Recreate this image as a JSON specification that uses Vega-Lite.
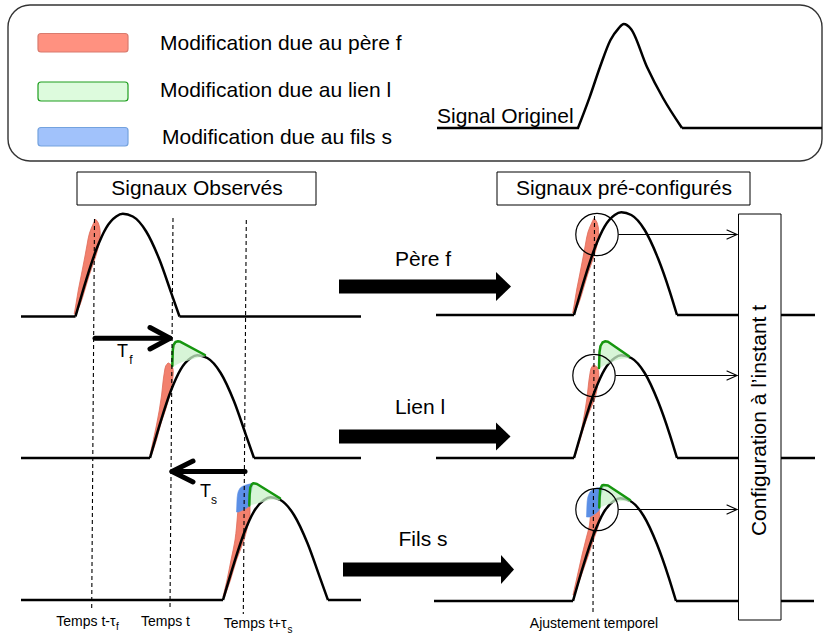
{
  "$schema": "https://vega.github.io/schema/vega-lite/v6.json",
  "width": 825,
  "height": 636,
  "padding": 0,
  "autosize": {"type": "none"},
  "background": "white",
  "config": {"view": {"stroke": null}, "font": "Liberation Sans"},
  "datasets": {
    "frame": [{"x": 8, "x2": 822, "y": 5, "y2": 161}],
    "swRed": [{"x": 38, "x2": 128, "y": 33.5, "y2": 52}],
    "swGreen": [{"x": 38, "x2": 128, "y": 82, "y2": 101}],
    "swBlue": [{"x": 38, "x2": 128, "y": 127.5, "y2": 146}],
    "boxes": [
      {"x": 77, "x2": 316, "y": 172, "y2": 205},
      {"x": 497, "x2": 750, "y": 172, "y2": 205}
    ],
    "configBox": [{"x": 738.5, "x2": 781, "y": 214, "y2": 620}],
    "flats": [
      {"x": 437, "x2": 579, "y": 128, "y2": 128},
      {"x": 682, "x2": 822, "y": 128, "y2": 128},
      {"x": 21, "x2": 75.5, "y": 316.5, "y2": 316.5},
      {"x": 179.5, "x2": 361, "y": 316.5, "y2": 316.5},
      {"x": 436, "x2": 574, "y": 315, "y2": 315},
      {"x": 677, "x2": 815, "y": 315, "y2": 315},
      {"x": 21, "x2": 150, "y": 458, "y2": 458},
      {"x": 254, "x2": 361, "y": 458, "y2": 458},
      {"x": 436, "x2": 574, "y": 458, "y2": 458},
      {"x": 677, "x2": 815, "y": 458, "y2": 458},
      {"x": 21, "x2": 223, "y": 600, "y2": 600},
      {"x": 328, "x2": 361, "y": 600, "y2": 600},
      {"x": 434, "x2": 573, "y": 601, "y2": 601},
      {"x": 676, "x2": 814, "y": 601, "y2": 601}
    ],
    "humps": [
      {"g": "L", "x": 578, "y": 128}, {"g": "L", "x": 589.5, "y": 97.6}, {"g": "L", "x": 600, "y": 67}, {"g": "L", "x": 610.5, "y": 40}, {"g": "L", "x": 618.4, "y": 28.6}, {"g": "L", "x": 623.7, "y": 24}, {"g": "L", "x": 631, "y": 29}, {"g": "L", "x": 647, "y": 67}, {"g": "L", "x": 663, "y": 98}, {"g": "L", "x": 682, "y": 128},
      {"g": "1a", "x": 75.5, "y": 316.5}, {"g": "1a", "x": 86.2, "y": 279.8}, {"g": "1a", "x": 96.2, "y": 249.8}, {"g": "1a", "x": 106.2, "y": 227.8}, {"g": "1a", "x": 116.2, "y": 216.5}, {"g": "1a", "x": 122.8, "y": 213.8}, {"g": "1a", "x": 132.8, "y": 216.5}, {"g": "1a", "x": 146.2, "y": 231.5}, {"g": "1a", "x": 159.5, "y": 259.8}, {"g": "1a", "x": 171.2, "y": 292.8}, {"g": "1a", "x": 179.5, "y": 316.5},
      {"g": "1b", "x": 574, "y": 315}, {"g": "1b", "x": 584.7, "y": 278.3}, {"g": "1b", "x": 594.7, "y": 248.3}, {"g": "1b", "x": 604.7, "y": 226.3}, {"g": "1b", "x": 614.7, "y": 215}, {"g": "1b", "x": 621.3, "y": 212.3}, {"g": "1b", "x": 631.3, "y": 215}, {"g": "1b", "x": 644.7, "y": 230}, {"g": "1b", "x": 658, "y": 258.3}, {"g": "1b", "x": 669.7, "y": 291.3}, {"g": "1b", "x": 677, "y": 315},
      {"g": "2a", "x": 150, "y": 458}, {"g": "2a", "x": 160.7, "y": 421.3}, {"g": "2a", "x": 170.7, "y": 391.3}, {"g": "2a", "x": 180.7, "y": 369.3}, {"g": "2a", "x": 190.7, "y": 358}, {"g": "2a", "x": 197.3, "y": 355.3}, {"g": "2a", "x": 207.3, "y": 358}, {"g": "2a", "x": 220.7, "y": 373}, {"g": "2a", "x": 234, "y": 401.3}, {"g": "2a", "x": 245.7, "y": 434.3}, {"g": "2a", "x": 254, "y": 458},
      {"g": "2b", "x": 574, "y": 458}, {"g": "2b", "x": 584.7, "y": 421.3}, {"g": "2b", "x": 594.7, "y": 391.3}, {"g": "2b", "x": 604.7, "y": 369.3}, {"g": "2b", "x": 614.7, "y": 358}, {"g": "2b", "x": 621.3, "y": 355.3}, {"g": "2b", "x": 631.3, "y": 358}, {"g": "2b", "x": 644.7, "y": 373}, {"g": "2b", "x": 658, "y": 401.3}, {"g": "2b", "x": 669.7, "y": 434.3}, {"g": "2b", "x": 677, "y": 458},
      {"g": "3a", "x": 223, "y": 600}, {"g": "3a", "x": 234, "y": 563.3}, {"g": "3a", "x": 244, "y": 533.3}, {"g": "3a", "x": 254, "y": 511.3}, {"g": "3a", "x": 264, "y": 500}, {"g": "3a", "x": 270.5, "y": 497.3}, {"g": "3a", "x": 280.5, "y": 500}, {"g": "3a", "x": 294, "y": 515}, {"g": "3a", "x": 307.5, "y": 543.3}, {"g": "3a", "x": 319.5, "y": 576.3}, {"g": "3a", "x": 328, "y": 600},
      {"g": "3b", "x": 573, "y": 601}, {"g": "3b", "x": 583.7, "y": 564.3}, {"g": "3b", "x": 593.7, "y": 534.3}, {"g": "3b", "x": 603.7, "y": 512.3}, {"g": "3b", "x": 613.7, "y": 501}, {"g": "3b", "x": 620.3, "y": 498.3}, {"g": "3b", "x": 630.3, "y": 501}, {"g": "3b", "x": 643.7, "y": 516}, {"g": "3b", "x": 657, "y": 544.3}, {"g": "3b", "x": 668.7, "y": 577.3}, {"g": "3b", "x": 676, "y": 601}
    ],
    "reds": [
      {"g": "1a", "y": 219.5, "x": 95.3, "x2": 95.9}, {"g": "1a", "y": 223, "x": 93.6, "x2": 98.3}, {"g": "1a", "y": 233, "x": 89.5, "x2": 100.2}, {"g": "1a", "y": 245, "x": 87, "x2": 98.8}, {"g": "1a", "y": 257, "x": 84.8, "x2": 95.5}, {"g": "1a", "y": 275, "x": 81.3, "x2": 89.3}, {"g": "1a", "y": 290, "x": 78.3, "x2": 84.8}, {"g": "1a", "y": 305, "x": 75.8, "x2": 80}, {"g": "1a", "y": 314, "x": 74.2, "x2": 75.8},
      {"g": "1b", "y": 218.5, "x": 593.8, "x2": 594.4}, {"g": "1b", "y": 222, "x": 592.1, "x2": 596.8}, {"g": "1b", "y": 232, "x": 588, "x2": 598.7}, {"g": "1b", "y": 244, "x": 585.5, "x2": 597.3}, {"g": "1b", "y": 256, "x": 583.3, "x2": 594}, {"g": "1b", "y": 274, "x": 579.8, "x2": 587.8}, {"g": "1b", "y": 289, "x": 576.8, "x2": 583.3}, {"g": "1b", "y": 304, "x": 574.3, "x2": 578.5}, {"g": "1b", "y": 313, "x": 572.7, "x2": 574.3},
      {"g": "2a", "y": 363, "x": 168, "x2": 168.6}, {"g": "2a", "y": 366, "x": 165.7, "x2": 172.2}, {"g": "2a", "y": 372, "x": 164.4, "x2": 173.3}, {"g": "2a", "y": 382, "x": 163, "x2": 172.3}, {"g": "2a", "y": 395, "x": 161.6, "x2": 169.8}, {"g": "2a", "y": 410, "x": 159.3, "x2": 165.5}, {"g": "2a", "y": 425, "x": 156.5, "x2": 160.5}, {"g": "2a", "y": 440, "x": 153.3, "x2": 156.5}, {"g": "2a", "y": 455, "x": 150, "x2": 151.5},
      {"g": "2b", "y": 365, "x": 593.5, "x2": 594.1}, {"g": "2b", "y": 368, "x": 591.2, "x2": 597.7}, {"g": "2b", "y": 374, "x": 589.9, "x2": 598.8}, {"g": "2b", "y": 384, "x": 588.5, "x2": 597.8}, {"g": "2b", "y": 397, "x": 587.1, "x2": 595.3}, {"g": "2b", "y": 412, "x": 584.8, "x2": 589.3}, {"g": "2b", "y": 427, "x": 582, "x2": 584}, {"g": "2b", "y": 442, "x": 578.8, "x2": 579.5}, {"g": "2b", "y": 456, "x": 574.5, "x2": 575},
      {"g": "3a", "y": 503, "x": 244, "x2": 246}, {"g": "3a", "y": 507, "x": 238.5, "x2": 250}, {"g": "3a", "y": 515, "x": 237.5, "x2": 250}, {"g": "3a", "y": 527, "x": 236.5, "x2": 247.5}, {"g": "3a", "y": 540, "x": 235, "x2": 244}, {"g": "3a", "y": 560, "x": 231, "x2": 236.5}, {"g": "3a", "y": 580, "x": 227, "x2": 230.5}, {"g": "3a", "y": 597, "x": 223, "x2": 224.5},
      {"g": "3b", "y": 503, "x": 594, "x2": 596}, {"g": "3b", "y": 508, "x": 591.5, "x2": 599}, {"g": "3b", "y": 515, "x": 590.5, "x2": 599.5}, {"g": "3b", "y": 525, "x": 589.5, "x2": 598.5}, {"g": "3b", "y": 537, "x": 586.5, "x2": 594.5}, {"g": "3b", "y": 555, "x": 582, "x2": 588.5}, {"g": "3b", "y": 575, "x": 577.5, "x2": 581.5}, {"g": "3b", "y": 595, "x": 573, "x2": 574.5}
    ],
    "blues": [
      {"g": "3a", "y": 483.3, "x": 252.8, "x2": 253.4}, {"g": "3a", "y": 485, "x": 246, "x2": 253.1}, {"g": "3a", "y": 487, "x": 241.5, "x2": 252.6}, {"g": "3a", "y": 490, "x": 239, "x2": 251.8}, {"g": "3a", "y": 495, "x": 237.5, "x2": 250.6}, {"g": "3a", "y": 500, "x": 237, "x2": 249.8}, {"g": "3a", "y": 505, "x": 236.8, "x2": 249.4}, {"g": "3a", "y": 512, "x": 236.5, "x2": 238.5},
      {"g": "3b", "y": 486.7, "x": 602.8, "x2": 603.4}, {"g": "3b", "y": 488.5, "x": 596, "x2": 603}, {"g": "3b", "y": 490.5, "x": 591.5, "x2": 602.5}, {"g": "3b", "y": 494, "x": 589, "x2": 601.5}, {"g": "3b", "y": 499, "x": 587.5, "x2": 600.3}, {"g": "3b", "y": 504, "x": 587, "x2": 599.6}, {"g": "3b", "y": 509, "x": 586.8, "x2": 599.3}, {"g": "3b", "y": 517, "x": 586.5, "x2": 590}
    ],
    "greens": [
      {"g": "2a", "x": 172.5, "y": 345, "y2": 367}, {"g": "2a", "x": 174.5, "y": 342.5, "y2": 366}, {"g": "2a", "x": 177, "y": 341.5, "y2": 364.5}, {"g": "2a", "x": 180, "y": 341.7, "y2": 363}, {"g": "2a", "x": 190, "y": 346.7, "y2": 360}, {"g": "2a", "x": 198, "y": 350.8, "y2": 357.5}, {"g": "2a", "x": 205, "y": 355, "y2": 356.5},
      {"g": "2b", "x": 599.2, "y": 346, "y2": 368}, {"g": "2b", "x": 601.3, "y": 343.5, "y2": 367}, {"g": "2b", "x": 604, "y": 341.5, "y2": 365.5}, {"g": "2b", "x": 609, "y": 342.5, "y2": 363.5}, {"g": "2b", "x": 617, "y": 347.5, "y2": 360}, {"g": "2b", "x": 624, "y": 352, "y2": 358.5}, {"g": "2b", "x": 629, "y": 356.5, "y2": 358},
      {"g": "3a", "x": 249.5, "y": 487, "y2": 505.5}, {"g": "3a", "x": 251, "y": 485, "y2": 505}, {"g": "3a", "x": 253.3, "y": 483.3, "y2": 504.5}, {"g": "3a", "x": 257, "y": 484, "y2": 503.5}, {"g": "3a", "x": 265, "y": 488.8, "y2": 501.5}, {"g": "3a", "x": 272, "y": 493.2, "y2": 499.5}, {"g": "3a", "x": 280, "y": 498.3, "y2": 500.5},
      {"g": "3b", "x": 599.5, "y": 488.5, "y2": 507.5}, {"g": "3b", "x": 601, "y": 486.5, "y2": 507}, {"g": "3b", "x": 603.3, "y": 485, "y2": 506}, {"g": "3b", "x": 608, "y": 485.5, "y2": 504.5}, {"g": "3b", "x": 615, "y": 490, "y2": 502.5}, {"g": "3b", "x": 622, "y": 494.7, "y2": 501}, {"g": "3b", "x": 630, "y": 500, "y2": 502}
    ],
    "greenLines": [
      {"g": "2a", "x": 172.3, "y": 366}, {"g": "2a", "x": 172.8, "y": 350}, {"g": "2a", "x": 173.5, "y": 345}, {"g": "2a", "x": 175.5, "y": 342}, {"g": "2a", "x": 178, "y": 341.3}, {"g": "2a", "x": 180.5, "y": 341.8}, {"g": "2a", "x": 205, "y": 355},
      {"g": "2b", "x": 599, "y": 368}, {"g": "2b", "x": 599.5, "y": 352}, {"g": "2b", "x": 600.5, "y": 346}, {"g": "2b", "x": 602.5, "y": 342.5}, {"g": "2b", "x": 605, "y": 341.3}, {"g": "2b", "x": 608, "y": 341.8}, {"g": "2b", "x": 629, "y": 356.3},
      {"g": "3a", "x": 249.3, "y": 505.5}, {"g": "3a", "x": 249.6, "y": 495}, {"g": "3a", "x": 250.3, "y": 487.5}, {"g": "3a", "x": 252, "y": 484}, {"g": "3a", "x": 253.5, "y": 483.2}, {"g": "3a", "x": 257, "y": 484}, {"g": "3a", "x": 280, "y": 498.3},
      {"g": "3b", "x": 599.3, "y": 507.5}, {"g": "3b", "x": 599.6, "y": 497}, {"g": "3b", "x": 600.3, "y": 489}, {"g": "3b", "x": 602, "y": 485.5}, {"g": "3b", "x": 603.5, "y": 485}, {"g": "3b", "x": 608, "y": 485.5}, {"g": "3b", "x": 630, "y": 500}
    ],
    "dashes": [
      {"x": 94.5, "y": 219, "x2": 91.7, "y2": 608},
      {"x": 173, "y": 218, "x2": 170, "y2": 608},
      {"x": 246.3, "y": 220, "x2": 243.3, "y2": 614},
      {"x": 594.5, "y": 216, "x2": 593, "y2": 612}
    ],
    "circles": [
      {"x": 597, "y": 234.5},
      {"x": 594, "y": 375.5},
      {"x": 597, "y": 509.5}
    ],
    "thin": [
      {"x": 619, "y": 234.5, "x2": 737, "y2": 234.5},
      {"x": 727, "y": 230, "x2": 737, "y2": 234.5},
      {"x": 727, "y": 239, "x2": 737, "y2": 234.5},
      {"x": 616, "y": 375.5, "x2": 737, "y2": 375.5},
      {"x": 727, "y": 371, "x2": 737, "y2": 375.5},
      {"x": 727, "y": 380, "x2": 737, "y2": 375.5},
      {"x": 619, "y": 509.5, "x2": 737, "y2": 509.5},
      {"x": 727, "y": 505, "x2": 737, "y2": 509.5},
      {"x": 727, "y": 514, "x2": 737, "y2": 509.5}
    ],
    "thick": [
      {"x": 95, "y": 338.3, "x2": 168, "y2": 338.3},
      {"x": 150, "y": 327.5, "x2": 170, "y2": 338.3},
      {"x": 150, "y": 349, "x2": 170, "y2": 338.3},
      {"x": 245, "y": 471.5, "x2": 174, "y2": 471.5},
      {"x": 193, "y": 461, "x2": 172, "y2": 471.5},
      {"x": 193, "y": 482, "x2": 172, "y2": 471.5}
    ],
    "bigBodies": [
      {"x": 339, "x2": 496, "y": 279.5, "y2": 293.5},
      {"x": 339, "x2": 496, "y": 429.5, "y2": 443.5},
      {"x": 343, "x2": 501, "y": 562.5, "y2": 576.5}
    ],
    "bigHeads": [
      {"g": "1", "x": 496, "y": 272, "y2": 301}, {"g": "1", "x": 511, "y": 286.5, "y2": 286.5},
      {"g": "2", "x": 496, "y": 422.5, "y2": 450.5}, {"g": "2", "x": 510.5, "y": 436.5, "y2": 436.5},
      {"g": "3", "x": 501, "y": 555, "y2": 584}, {"g": "3", "x": 514, "y": 569.5, "y2": 569.5}
    ],
    "textLeft": [
      {"x": 160, "y": 44, "t": "Modification due au père f"},
      {"x": 160, "y": 91, "t": "Modification due au lien l"},
      {"x": 162, "y": 138, "t": "Modification due au fils s"},
      {"x": 437, "y": 117, "t": "Signal Originel"}
    ],
    "textCenter": [
      {"x": 197, "y": 188.5, "t": "Signaux Observés"},
      {"x": 624, "y": 189, "t": "Signaux pré-configurés"},
      {"x": 423, "y": 260, "t": "Père f"},
      {"x": 420, "y": 408, "t": "Lien l"},
      {"x": 423, "y": 540, "t": "Fils s"}
    ],
    "textConfig": [{"x": 760, "y": 420.5, "t": "Configuration à l’instant t"}],
    "smallCenter": [
      {"x": 165.5, "y": 621.5, "t": "Temps t"},
      {"x": 594, "y": 624, "t": "Ajustement temporel"}
    ],
    "smallRight": [
      {"x": 115.5, "y": 621.5, "t": "Temps t-τ"},
      {"x": 286.5, "y": 624, "t": "Temps t+τ"}
    ],
    "subs": [
      {"x": 116, "y": 626.5, "t": "f"},
      {"x": 287.5, "y": 629.5, "t": "s"}
    ],
    "tauT": [
      {"x": 122.5, "y": 351.5, "t": "T"},
      {"x": 205.5, "y": 491.5, "t": "T"}
    ],
    "tauSub": [
      {"x": 131, "y": 360, "t": "f"},
      {"x": 214, "y": 500, "t": "s"}
    ]
  },
  "encoding": {
    "x": {"field": "x", "type": "quantitative", "scale": {"domain": [0, 825], "nice": false, "zero": false}, "axis": null},
    "y": {"field": "y", "type": "quantitative", "scale": {"domain": [0, 636], "nice": false, "zero": false, "reverse": true}, "axis": null}
  },
  "layer": [
    {"data": {"name": "frame"}, "mark": {"type": "rect", "fill": null, "fillOpacity": 0, "stroke": "#333333", "strokeWidth": 1.4, "cornerRadius": 22}, "encoding": {"x2": {"field": "x2"}, "y2": {"field": "y2"}}},
    {"data": {"name": "swRed"}, "mark": {"type": "rect", "fill": "#FF9180", "stroke": "#D97B6E", "strokeWidth": 1.2, "cornerRadius": 3}, "encoding": {"x2": {"field": "x2"}, "y2": {"field": "y2"}}},
    {"data": {"name": "swGreen"}, "mark": {"type": "rect", "fill": "#DDFBDD", "stroke": "#1E9E1E", "strokeWidth": 1.2, "cornerRadius": 3}, "encoding": {"x2": {"field": "x2"}, "y2": {"field": "y2"}}},
    {"data": {"name": "swBlue"}, "mark": {"type": "rect", "fill": "#A1C2FB", "stroke": "#74A2DE", "strokeWidth": 1.2, "cornerRadius": 3}, "encoding": {"x2": {"field": "x2"}, "y2": {"field": "y2"}}},
    {"data": {"name": "boxes"}, "mark": {"type": "rect", "fill": "white", "stroke": "black", "strokeWidth": 1}, "encoding": {"x2": {"field": "x2"}, "y2": {"field": "y2"}}},
    {"data": {"name": "flats"}, "mark": {"type": "rule", "stroke": "black", "strokeWidth": 2.5}, "encoding": {"x2": {"field": "x2"}, "y2": {"field": "y2"}}},
    {"data": {"name": "reds"}, "mark": {"type": "area", "orient": "horizontal", "interpolate": "monotone", "fill": "#F2806D", "stroke": "#DE6A58", "strokeWidth": 0.8}, "encoding": {"x2": {"field": "x2"}, "detail": {"field": "g"}}},
    {"data": {"name": "blues"}, "mark": {"type": "area", "orient": "horizontal", "interpolate": "monotone", "fill": "#5B8FE6", "stroke": "#5B8FE6", "strokeWidth": 0.6}, "encoding": {"x2": {"field": "x2"}, "detail": {"field": "g"}}},
    {"data": {"name": "humps"}, "mark": {"type": "line", "interpolate": "monotone", "stroke": "black", "strokeWidth": 2.5, "strokeJoin": "round"}, "encoding": {"detail": {"field": "g"}}},
    {"data": {"name": "greens"}, "mark": {"type": "area", "interpolate": "monotone", "fill": "#C9F2C9", "opacity": 0.75}, "encoding": {"y2": {"field": "y2"}, "detail": {"field": "g"}}},
    {"data": {"name": "greenLines"}, "mark": {"type": "line", "stroke": "#16960F", "strokeWidth": 2.5, "strokeJoin": "round", "strokeCap": "round"}, "encoding": {"detail": {"field": "g"}}},
    {"data": {"name": "dashes"}, "mark": {"type": "rule", "stroke": "black", "strokeWidth": 1.1, "strokeDash": [4, 3]}, "encoding": {"x2": {"field": "x2"}, "y2": {"field": "y2"}}},
    {"data": {"name": "circles"}, "mark": {"type": "point", "shape": "circle", "size": 1800, "filled": false, "stroke": "black", "strokeWidth": 1.2, "opacity": 1}},
    {"data": {"name": "thin"}, "mark": {"type": "rule", "stroke": "black", "strokeWidth": 1.2, "strokeCap": "round"}, "encoding": {"x2": {"field": "x2"}, "y2": {"field": "y2"}}},
    {"data": {"name": "configBox"}, "mark": {"type": "rect", "fill": "white", "stroke": "black", "strokeWidth": 1}, "encoding": {"x2": {"field": "x2"}, "y2": {"field": "y2"}}},
    {"data": {"name": "thick"}, "mark": {"type": "rule", "stroke": "black", "strokeWidth": 5, "strokeCap": "round"}, "encoding": {"x2": {"field": "x2"}, "y2": {"field": "y2"}}},
    {"data": {"name": "bigBodies"}, "mark": {"type": "rect", "fill": "black"}, "encoding": {"x2": {"field": "x2"}, "y2": {"field": "y2"}}},
    {"data": {"name": "bigHeads"}, "mark": {"type": "area", "fill": "black"}, "encoding": {"y2": {"field": "y2"}, "detail": {"field": "g"}}},
    {"data": {"name": "textLeft"}, "mark": {"type": "text", "fontSize": 21, "align": "left", "baseline": "middle", "font": "Liberation Sans", "fill": "black"}, "encoding": {"text": {"field": "t"}}},
    {"data": {"name": "textCenter"}, "mark": {"type": "text", "fontSize": 21, "align": "center", "baseline": "middle", "font": "Liberation Sans", "fill": "black"}, "encoding": {"text": {"field": "t"}}},
    {"data": {"name": "textConfig"}, "mark": {"type": "text", "fontSize": 21, "align": "center", "baseline": "middle", "angle": 270, "font": "Liberation Sans", "fill": "black"}, "encoding": {"text": {"field": "t"}}},
    {"data": {"name": "smallCenter"}, "mark": {"type": "text", "fontSize": 14, "align": "center", "baseline": "middle", "font": "Liberation Sans", "fill": "black"}, "encoding": {"text": {"field": "t"}}},
    {"data": {"name": "smallRight"}, "mark": {"type": "text", "fontSize": 14, "align": "right", "baseline": "middle", "font": "Liberation Sans", "fill": "black"}, "encoding": {"text": {"field": "t"}}},
    {"data": {"name": "subs"}, "mark": {"type": "text", "fontSize": 10, "align": "left", "baseline": "middle", "font": "Liberation Sans", "fill": "black"}, "encoding": {"text": {"field": "t"}}},
    {"data": {"name": "tauT"}, "mark": {"type": "text", "fontSize": 18, "align": "center", "baseline": "middle", "font": "Liberation Sans", "fill": "black"}, "encoding": {"text": {"field": "t"}}},
    {"data": {"name": "tauSub"}, "mark": {"type": "text", "fontSize": 12, "align": "center", "baseline": "middle", "font": "Liberation Sans", "fill": "black"}, "encoding": {"text": {"field": "t"}}}
  ]
}
